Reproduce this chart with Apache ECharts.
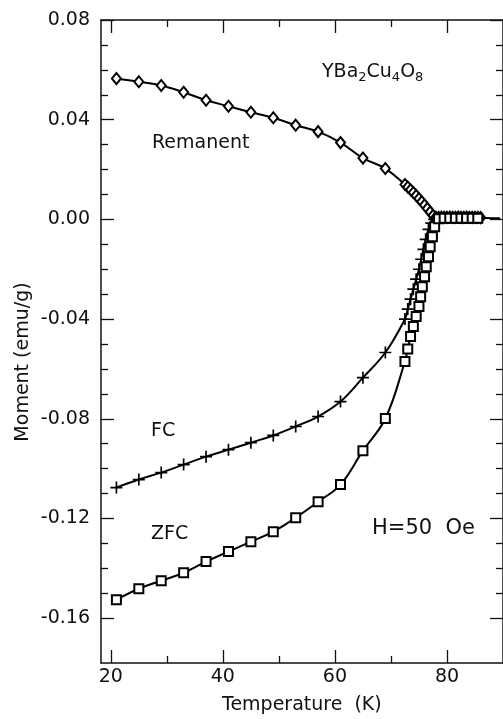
<!DOCTYPE html>
<html>
<head>
<meta charset="utf-8">
<script src="https://cdn.jsdelivr.net/npm/echarts@6/dist/echarts.min.js"></script>
<style>
  html, body { margin: 0; padding: 0; background: #fff; }
  #chart { width: 503px; height: 719px; }
</style>
</head>
<body>
<div id="chart"></div>
<script>
// remanent moment (diamonds)
const remT = [21, 25, 29, 33, 37, 41, 45, 49, 53, 57, 61, 65, 69,
  72.5, 73, 73.5, 74, 74.5, 75, 75.5, 76, 76.5, 77, 77.5,
  78, 78.5, 79, 79.5, 80, 80.5, 81, 81.5, 82, 82.5, 83, 83.5, 84, 84.5, 85, 85.5, 86]
const remM = [0.0565, 0.0552, 0.0537, 0.0510, 0.0478, 0.0454, 0.0430, 0.0408, 0.0378, 0.0352, 0.0308, 0.0246, 0.0204,
  0.0140, 0.0130, 0.0119, 0.0108, 0.0096, 0.0084, 0.0071, 0.0058, 0.0044, 0.0030, 0.0016,
  0.0008, 0.0008, 0.0009, 0.0008, 0.0008, 0.0009, 0.0008, 0.0008, 0.0009, 0.0008, 0.0008, 0.0009, 0.0008, 0.0008, 0.0008, 0.0008, 0.0007]

// field cooled (plus)
const fcT = [21, 25, 29, 33, 37, 41, 45, 49, 53, 57, 61, 65, 69,
  72.5, 73, 73.5, 74, 74.5, 75, 75.4, 75.8, 76.2, 76.7, 77.2, 77.7,
  78.5, 79.5, 80.5, 81.5, 82.5, 83.5, 84.5, 85.5]
const fcM = [-0.1076, -0.1044, -0.1016, -0.0984, -0.0952, -0.0924, -0.0896, -0.0867, -0.0831, -0.0791, -0.0731, -0.0635, -0.0534,
  -0.040, -0.036, -0.032, -0.028, -0.024, -0.020, -0.016, -0.012, -0.008, -0.004, -0.0015, 0.0,
  0.0005, 0.0006, 0.0006, 0.0006, 0.0006, 0.0006, 0.0006, 0.0006]

// zero field cooled (squares)
const zfcT = [21, 25, 29, 33, 37, 41, 45, 49, 53, 57, 61, 65, 69,
  72.5, 73, 73.5, 74, 74.5, 75, 75.3, 75.6, 76, 76.3, 76.7, 77, 77.4, 77.8,
  78.5, 79.5, 80.5, 81.5, 82.5, 83.5, 84.5, 85.5]
const zfcM = [-0.1526, -0.1482, -0.1450, -0.1418, -0.1373, -0.1333, -0.1293, -0.1253, -0.1197, -0.1133, -0.1064, -0.0928, -0.0799,
  -0.057, -0.052, -0.047, -0.043, -0.039, -0.035, -0.031, -0.027, -0.023, -0.019, -0.015, -0.011, -0.007, -0.003,
  0.0003, 0.0005, 0.0005, 0.0005, 0.0005, 0.0005, 0.0005, 0.0005]

// fitted line tail beyond the last marker
const tailT = [89.5]
const tailM = [0.0005]

const xMajor = [20, 40, 60, 80]
const xMinor = [30, 50, 70]
const yMajor = [0.08, 0.04, 0, -0.04, -0.08, -0.12, -0.16]
const yMinor = [0.07, 0.06, 0.05, 0.03, 0.02, 0.01, -0.01, -0.02, -0.03, -0.05, -0.06, -0.07,
  -0.09, -0.10, -0.11, -0.13, -0.14, -0.15]

const xMin = 18.25, xMax = 90
const yMin = -0.178, yMax = 0.08
const FONT = '"DejaVu Sans", "Liberation Sans", sans-serif'
const INK = '#111'

const chart = echarts.init(document.getElementById('chart'))

function pairs(xs, ys) {
  return xs.map((x, i) => [x, ys[i]])
}

function xAx(pos, ticks, len, labels, line) {
  return {
    type: 'value', position: pos, min: xMin, max: xMax,
    axisLine: { show: line, onZero: false, lineStyle: { color: INK, width: 1.5 } },
    axisTick: { show: true, inside: true, length: len, customValues: ticks, lineStyle: { color: INK, width: 1.3 } },
    axisLabel: labels ? { show: true, customValues: ticks, color: INK, fontSize: 19, fontFamily: FONT, margin: 5 } : { show: false },
    splitLine: { show: false }
  }
}

function yAx(pos, ticks, len, labels, line) {
  return {
    type: 'value', position: pos, min: yMin, max: yMax,
    axisLine: { show: line, onZero: false, lineStyle: { color: INK, width: 1.5 } },
    axisTick: { show: true, inside: true, length: len, customValues: ticks, lineStyle: { color: INK, width: 1.3 } },
    axisLabel: labels ? {
      show: true, customValues: ticks, color: INK, fontSize: 19, fontFamily: FONT, margin: 11,
      formatter: v => (Math.abs(v) < 1e-9 ? 0 : v).toFixed(2)
    } : { show: false },
    splitLine: { show: false }
  }
}

const remData = pairs(remT, remM).concat(pairs(tailT, tailM).map(p => ({ value: p, symbol: 'none' })))

const option = {
  animation: false,
  backgroundColor: '#fff',
  grid: { left: 101, top: 20, right: -7, bottom: 56, containLabel: false },
  xAxis: [
    xAx('bottom', xMajor, 13, true, true),
    xAx('bottom', xMinor, 7, false, false),
    xAx('top', xMajor, 13, false, true),
    xAx('top', xMinor, 7, false, false)
  ],
  yAxis: [
    yAx('left', yMajor, 13, true, true),
    yAx('left', yMinor, 7, false, false),
    yAx('right', yMajor, 13, false, true),
    yAx('right', yMinor, 7, false, false)
  ],
  series: [
    {
      name: 'Remanent', type: 'line', data: remData,
      smooth: 0.4,
      symbol: 'emptyDiamond', symbolSize: [9, 11],
      lineStyle: { color: '#000', width: 2 },
      itemStyle: { color: '#000', borderColor: '#000', borderWidth: 1.3 }
    },
    {
      name: 'FC', type: 'line', data: pairs(fcT, fcM),
      smooth: 0.4,
      symbol: 'path://M4.3,0h1.4v10h-1.4z M0,4.3h10v1.4h-10z', symbolSize: 12,
      lineStyle: { color: '#000', width: 2 },
      itemStyle: { color: '#000' }
    },
    {
      name: 'ZFC', type: 'line', data: pairs(zfcT, zfcM),
      smooth: 0.4,
      symbol: 'emptyRect', symbolSize: 9,
      lineStyle: { color: '#000', width: 2 },
      itemStyle: { color: '#000', borderColor: '#000', borderWidth: 1.3 }
    }
  ],
  graphic: [
    {
      type: 'text', left: 322, top: 60,
      style: {
        text: 'YBa{s|2}Cu{s|4}O{s|8}', fill: INK, font: '19px ' + FONT, lineHeight: 24,
        rich: { s: { fontSize: 13, fontFamily: FONT, fill: INK, lineHeight: 14, verticalAlign: 'bottom' } }
      }
    },
    { type: 'text', left: 152, top: 134, style: { text: 'Remanent', fill: INK, font: '19px ' + FONT } },
    { type: 'text', left: 151, top: 422, style: { text: 'FC', fill: INK, font: '19px ' + FONT } },
    { type: 'text', left: 151, top: 525, style: { text: 'ZFC', fill: INK, font: '19px ' + FONT } },
    { type: 'text', left: 372, top: 518, style: { text: 'H=50  Oe', fill: INK, font: '21px ' + FONT } },
    { type: 'text', left: 222, top: 696, style: { text: 'Temperature  (K)', fill: INK, font: '19px ' + FONT } },
    {
      type: 'text', x: 23, y: 362, rotation: Math.PI / 2,
      style: { text: 'Moment (emu/g)', fill: INK, font: '19px ' + FONT, align: 'center', verticalAlign: 'middle' }
    }
  ]
}

chart.setOption(option)
</script>
</body>
</html>
